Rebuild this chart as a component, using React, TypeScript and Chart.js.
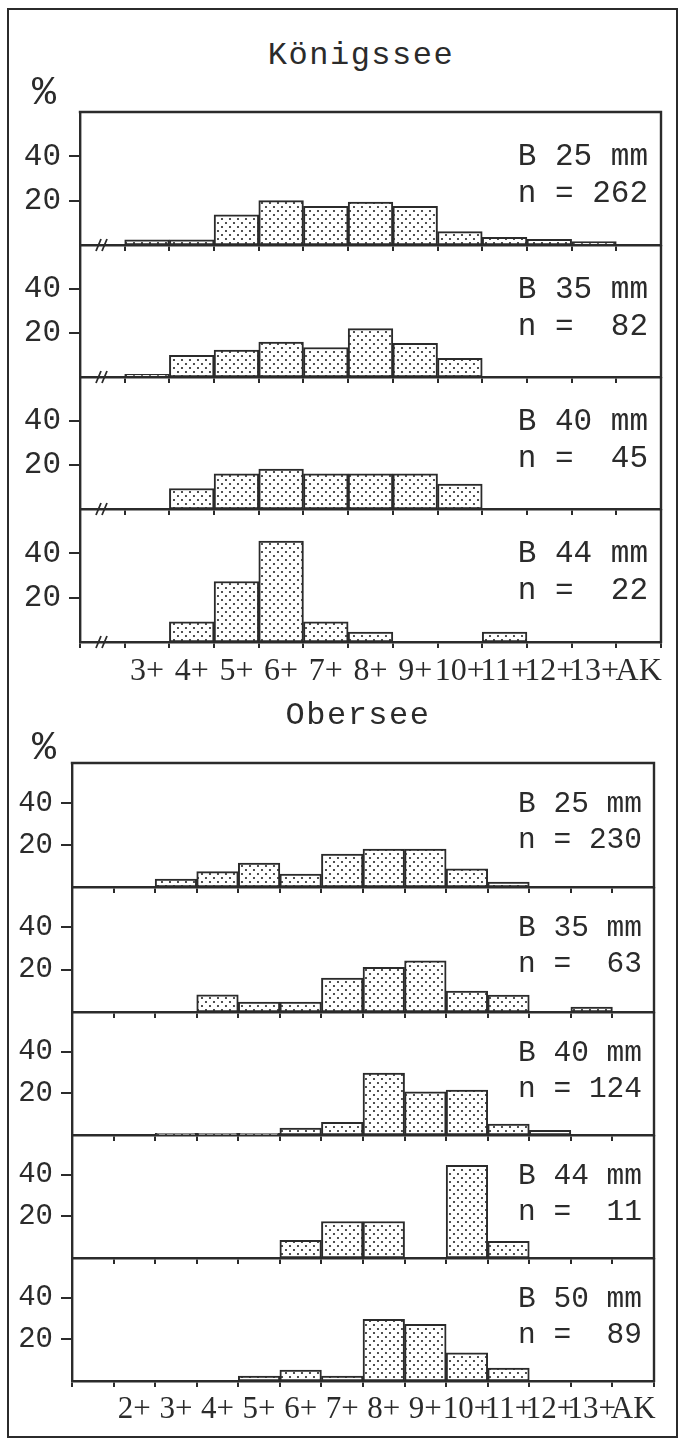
import React, { useEffect, useRef } from "react";
import { Chart, registerables } from "chart.js";

Chart.register(...registerables);

// ---------------- data ----------------
const topCategories = ["", "3+", "4+", "5+", "6+", "7+", "8+", "9+", "10+", "11+", "12+", "13+", "AK"];
const bottomCategories = ["", "2+", "3+", "4+", "5+", "6+", "7+", "8+", "9+", "10+", "11+", "12+", "13+", "AK"];
const yTickValues = [20, 40];

const koenigsseeTitle = "Königssee";
const oberseeTitle = "Obersee";
const unitLabel = "%";

const koenigsseeMesh = [25, 35, 40, 44];
const koenigsseeN = [262, 82, 45, 22];
const koenigssee25 = [null, 2.3, 2.3, 13.6, 20, 17.4, 19.4, 17.4, 6, 3.5, 2.6, 1.5, null];
const koenigssee35 = [null, 1.2, 9.8, 12.2, 15.9, 13.4, 22, 15.3, 8.5, null, null, null, null];
const koenigssee40 = [null, null, 9.3, 16, 18.2, 16, 16, 16, 11.3, null, null, null, null];
const koenigssee44 = [null, null, 9.1, 27.3, 45.5, 9.1, 4.5, null, null, 4.5, null, null, null];

const oberseeMesh = [25, 35, 40, 44, 50];
const oberseeN = [230, 63, 124, 11, 89];
const obersee25 = [null, null, 3.8, 7.3, 11.4, 6.2, 15.7, 18, 18, 8.6, 2.4, null, null, null];
const obersee35 = [null, null, null, 8.1, 4.7, 4.7, 16, 21.1, 24.1, 9.9, 8, null, 2.3, null];
const obersee40 = [null, null, 0.8, 0.8, 0.8, 3.3, 6.1, 29.7, 20.7, 21.6, 5.2, 2.3, null, null];
const obersee44 = [null, null, null, null, null, 8.5, 17.5, 17.5, null, 44.5, 8, null, null, null];
const obersee50 = [null, null, null, null, 2.4, 5.2, 2.4, 29.6, 27.2, 13.5, 6.2, null, null, null];

// ---------------- layout ----------------
const INK = "#2b2b2b";
const MONO = '"Liberation Mono", "DejaVu Sans Mono", monospace';
const SERIF = '"Liberation Serif", "DejaVu Serif", serif';

const topLayout = {
  left: 80,
  right: 661,
  edges: [112, 245, 377, 509, 642],
  yMax: 60,
  yFont: 31,
  xFont: 32,
  labelFont: 31,
  line1: 53,
  line2: 90,
  labelRight: 13,
  breakMark: true,
};
const bottomLayout = {
  left: 72,
  right: 654,
  edges: [763, 887, 1012, 1135, 1258, 1381],
  yMax: 59,
  yFont: 29,
  xFont: 31,
  labelFont: 29.5,
  line1: 49,
  line2: 85,
  labelRight: 12,
  breakMark: false,
};

function makeStipple(ctx: CanvasRenderingContext2D) {
  const tile = document.createElement("canvas");
  tile.width = 8;
  tile.height = 8;
  const g = tile.getContext("2d")!;
  g.fillStyle = "#ffffff";
  g.fillRect(0, 0, 8, 8);
  g.fillStyle = "#2a2a2a";
  g.beginPath();
  g.arc(2, 2, 1.1, 0, Math.PI * 2);
  g.arc(6, 6, 1.1, 0, Math.PI * 2);
  g.fill();
  return ctx.createPattern(tile, "repeat");
}

const panelDeco = {
  id: "panelDeco",
  afterDraw(chart: any, _args: any, opts: any) {
    const { ctx, chartArea: a } = chart;
    ctx.save();
    ctx.strokeStyle = INK;
    ctx.lineWidth = 2.4;
    ctx.beginPath();
    ctx.moveTo(a.right, a.top - (opts.first ? 1.2 : 0));
    ctx.lineTo(a.right, a.bottom + 1.2);
    if (opts.first) {
      ctx.moveTo(a.left - 1.2, a.top);
      ctx.lineTo(a.right + 1.2, a.top);
    }
    ctx.stroke();
    if (opts.breakMark) {
      const bx = a.left + 19;
      const by = a.bottom;
      ctx.lineWidth = 1.8;
      ctx.beginPath();
      for (const dx of [0, 6]) {
        ctx.moveTo(bx + dx - 3, by + 6);
        ctx.lineTo(bx + dx + 2, by - 6);
      }
      ctx.stroke();
    }
    ctx.fillStyle = INK;
    ctx.font = `${opts.labelFont}px ${MONO}`;
    ctx.textAlign = "right";
    ctx.textBaseline = "alphabetic";
    const x = a.right - opts.labelRight;
    ctx.fillText(`B ${opts.mesh} mm`, x, a.top + opts.line1);
    ctx.fillText(`n = ${String(opts.n).padStart(3, " ")}`, x, a.top + opts.line2);
    ctx.restore();
  },
};

type PanelProps = {
  categories: string[];
  values: (number | null)[];
  mesh: number;
  n: number;
  index: number;
  count: number;
  layout: typeof topLayout;
};

function Panel({ categories, values, mesh, n, index, count, layout }: PanelProps) {
  const ref = useRef<HTMLCanvasElement>(null);
  const top = layout.edges[index];
  const bottom = layout.edges[index + 1];
  const isFirst = index === 0;
  const isLast = index === count - 1;
  const padTop = 3;
  const extraBottom = isLast ? 56 : 9;
  const height = padTop + (bottom - top) + extraBottom;

  useEffect(() => {
    const canvas = ref.current!;
    const ctx = canvas.getContext("2d")!;
    const pattern = makeStipple(ctx);
    const chart = new Chart(canvas, {
      type: "bar",
      data: {
        labels: categories,
        datasets: [
          {
            data: values as any,
            backgroundColor: pattern as any,
            borderColor: INK,
            borderWidth: 2,
            borderSkipped: false,
            barPercentage: 1,
            categoryPercentage: 1,
          },
        ],
      },
      options: {
        animation: false,
        responsive: false,
        devicePixelRatio: 1,
        events: [],
        layout: { padding: { top: padTop, right: 680 - layout.right, left: 0, bottom: 0 } },
        plugins: {
          legend: { display: false },
          tooltip: { enabled: false },
          panelDeco: {
            first: isFirst,
            breakMark: layout.breakMark,
            mesh,
            n,
            labelFont: layout.labelFont,
            line1: layout.line1,
            line2: layout.line2,
            labelRight: layout.labelRight,
          },
        } as any,
        scales: {
          x: {
            type: "category",
            offset: true,
            grid: {
              display: true,
              offset: true,
              drawOnChartArea: false,
              drawTicks: true,
              tickLength: 6,
              color: INK,
              lineWidth: 2,
            },
            border: { display: true, color: INK, width: 2.4 },
            ticks: {
              display: isLast,
              autoSkip: false,
              maxRotation: 0,
              minRotation: 0,
              padding: 4,
              color: INK,
              font: { family: SERIF, size: layout.xFont },
            },
            afterFit: (s: any) => {
              s.height = extraBottom;
              s.paddingLeft = 0;
              s.paddingRight = 0;
            },
          },
          y: {
            type: "linear",
            min: 0,
            max: layout.yMax,
            afterBuildTicks: (s: any) => {
              s.ticks = yTickValues.map((v) => ({ value: v }));
            },
            grid: {
              display: true,
              drawOnChartArea: false,
              drawTicks: true,
              tickLength: 11,
              color: INK,
              lineWidth: 2,
            },
            border: { display: true, color: INK, width: 2.4 },
            ticks: {
              padding: 8,
              color: INK,
              font: { family: MONO, size: layout.yFont },
              callback: (v: any) => String(v),
            },
            afterFit: (s: any) => {
              s.width = layout.left;
              s.paddingTop = 0;
              s.paddingBottom = 0;
            },
          },
        },
      },
      plugins: [panelDeco],
    });
    return () => chart.destroy();
  }, []);

  return (
    <canvas
      ref={ref}
      width={680}
      height={height}
      style={{ position: "absolute", left: 0, top: top - padTop, width: 680, height }}
    />
  );
}

function TextAt({ text, cx, baseline, size, spacing = 0 }: { text: string; cx: number; baseline: number; size: number; spacing?: number }) {
  // Liberation Mono: ascent 0.8335, descent 0.3003; line-height = size
  const baseOffset = (size - 1.1338 * size) / 2 + 0.8335 * size;
  return (
    <div
      style={{
        position: "absolute",
        left: cx,
        top: baseline - baseOffset,
        transform: "translateX(-50%)",
        fontFamily: MONO,
        fontSize: size,
        lineHeight: `${size}px`,
        letterSpacing: spacing,
        color: INK,
        whiteSpace: "pre",
      }}
    >
      {text}
    </div>
  );
}

export default function App() {
  useEffect(() => {
    document.body.style.margin = "0";
    document.body.style.background = "#ffffff";
  }, []);

  const topSeries = [koenigssee25, koenigssee35, koenigssee40, koenigssee44];
  const bottomSeries = [obersee25, obersee35, obersee40, obersee44, obersee50];

  return (
    <div style={{ position: "relative", width: 680, height: 1440, background: "#fff", overflow: "hidden" }}>
      <style>{`body{margin:0;background:#fff}`}</style>
      <div
        style={{
          position: "absolute",
          left: 7,
          top: 8,
          width: 671,
          height: 1430,
          border: `2.5px solid ${INK}`,
          boxSizing: "border-box",
        }}
      />
      {topSeries.map((vals, i) => (
        <Panel
          key={`k${i}`}
          categories={topCategories}
          values={vals}
          mesh={koenigsseeMesh[i]}
          n={koenigsseeN[i]}
          index={i}
          count={topSeries.length}
          layout={topLayout}
        />
      ))}
      {bottomSeries.map((vals, i) => (
        <Panel
          key={`o${i}`}
          categories={bottomCategories}
          values={vals}
          mesh={oberseeMesh[i]}
          n={oberseeN[i]}
          index={i}
          count={bottomSeries.length}
          layout={bottomLayout}
        />
      ))}
      <TextAt text={koenigsseeTitle} cx={361} baseline={65} size={32} spacing={1.5} />
      <TextAt text={oberseeTitle} cx={358} baseline={725} size={32} spacing={1.5} />
      <TextAt text={unitLabel} cx={44} baseline={105} size={40} />
      <TextAt text={unitLabel} cx={44} baseline={760} size={40} />
    </div>
  );
}
